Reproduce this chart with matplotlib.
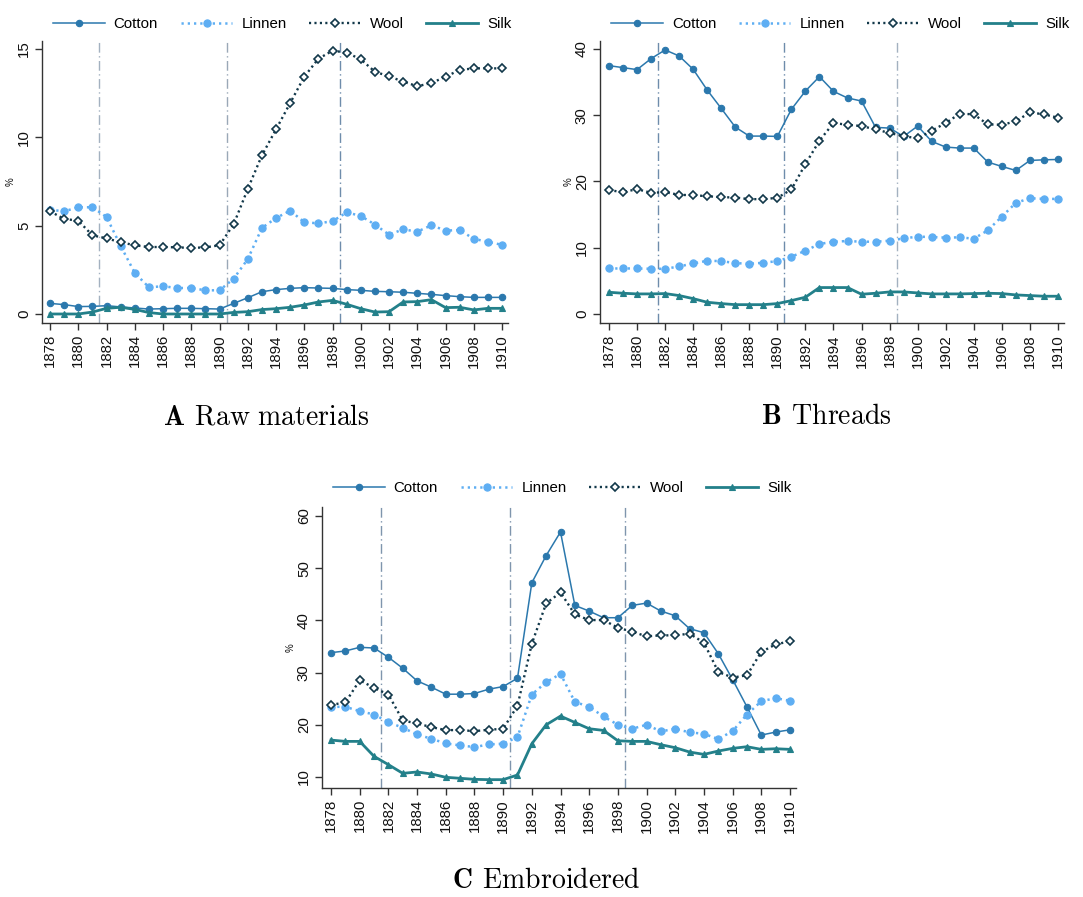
import matplotlib
matplotlib.use("Agg")
import matplotlib.pyplot as plt

plt.rcParams["font.family"] = ["Liberation Sans", "DejaVu Sans"]
plt.rcParams["mathtext.fontset"] = "cm"

years = list(range(1878, 1911))
tick_years = list(range(1878, 1911, 2))
series_names = ["Cotton", "Linnen", "Wool", "Silk"]

# Raw materials
raw_cotton = [0.60, 0.53, 0.42, 0.43, 0.47, 0.40, 0.34, 0.28, 0.30, 0.32, 0.32, 0.30, 0.28,
              0.60, 0.92, 1.26, 1.38, 1.45, 1.49, 1.47, 1.45, 1.38, 1.34, 1.28, 1.26, 1.23,
              1.17, 1.11, 1.04, 0.98, 0.94, 0.94, 0.94]
raw_linnen = [5.90, 5.81, 6.04, 6.04, 5.49, 3.85, 2.32, 1.51, 1.57, 1.47, 1.47, 1.34, 1.34,
              2.00, 3.11, 4.87, 5.43, 5.85, 5.19, 5.13, 5.25, 5.75, 5.55, 5.06, 4.49, 4.79,
              4.66, 5.02, 4.72, 4.75, 4.25, 4.09, 3.91]
raw_wool = [5.81, 5.38, 5.28, 4.45, 4.28, 4.06, 3.89, 3.79, 3.79, 3.77, 3.74, 3.77, 3.89,
            5.08, 7.08, 8.98, 10.45, 11.94, 13.43, 14.45, 14.90, 14.79, 14.41, 13.71, 13.45,
            13.15, 12.89, 13.07, 13.43, 13.81, 13.90, 13.90, 13.90]
raw_silk = [0.00, 0.00, 0.00, 0.11, 0.32, 0.38, 0.26, 0.08, 0.00, 0.00, 0.00, 0.00, 0.00,
            0.09, 0.13, 0.25, 0.30, 0.38, 0.51, 0.68, 0.77, 0.55, 0.30, 0.11, 0.13, 0.68,
            0.70, 0.81, 0.36, 0.38, 0.23, 0.32, 0.32]

# Threads
thr_cotton = [37.48, 37.18, 36.88, 38.54, 39.85, 38.94, 36.93, 33.80, 31.03, 28.21, 26.85,
              26.85, 26.80, 30.88, 33.65, 35.82, 33.60, 32.60, 32.14, 28.16, 28.06, 26.80,
              28.36, 26.05, 25.19, 25.04, 25.04, 22.92, 22.27, 21.66, 23.17, 23.27, 23.32]
thr_linnen = [6.87, 6.87, 6.87, 6.82, 6.82, 7.17, 7.63, 8.03, 7.98, 7.68, 7.58, 7.73, 7.98,
              8.64, 9.55, 10.56, 10.91, 11.01, 10.91, 10.91, 11.06, 11.41, 11.67, 11.62,
              11.52, 11.57, 11.36, 12.63, 14.70, 16.77, 17.47, 17.37, 17.37]
thr_wool = [18.69, 18.39, 18.84, 18.29, 18.39, 17.98, 17.93, 17.78, 17.63, 17.58, 17.33,
            17.33, 17.53, 18.79, 22.62, 26.15, 28.82, 28.56, 28.36, 27.86, 27.31, 26.85,
            26.50, 27.66, 28.82, 30.23, 30.13, 28.61, 28.56, 29.07, 30.43, 30.13, 29.62]
thr_silk = [3.28, 3.13, 3.03, 3.03, 3.08, 2.78, 2.32, 1.77, 1.57, 1.41, 1.41, 1.41, 1.57,
            2.02, 2.53, 3.99, 3.99, 3.99, 2.98, 3.13, 3.33, 3.33, 3.18, 3.03, 3.03, 3.03,
            3.08, 3.13, 3.08, 2.88, 2.78, 2.68, 2.68]

# Embroidered
emb_cotton = [33.82, 34.14, 34.84, 34.71, 32.93, 30.83, 28.41, 27.20, 25.86, 25.86, 25.99,
              26.82, 27.32, 28.92, 47.20, 52.42, 56.94, 42.87, 41.78, 40.51, 40.51, 42.87,
              43.31, 41.78, 40.89, 38.41, 37.64, 33.63, 28.66, 23.44, 18.03, 18.60, 19.04]
emb_linnen = [23.44, 23.44, 22.61, 21.97, 20.51, 19.43, 18.15, 17.32, 16.43, 16.05, 15.73,
              16.24, 16.37, 17.64, 25.80, 28.15, 29.75, 24.39, 23.44, 21.59, 20.00, 19.24,
              20.00, 18.73, 19.24, 18.54, 18.28, 17.26, 18.79, 21.97, 24.52, 25.10, 24.59]
emb_wool = [23.82, 24.27, 28.54, 27.07, 25.80, 20.83, 20.25, 19.55, 18.98, 18.98, 18.79,
            19.04, 19.24, 23.63, 35.54, 43.25, 45.35, 41.15, 40.06, 40.06, 38.60, 37.83,
            36.94, 37.13, 37.13, 37.45, 35.73, 30.13, 29.04, 29.49, 33.95, 35.40, 36.00]
emb_silk = [17.07, 16.82, 16.82, 13.95, 12.36, 10.70, 10.96, 10.57, 9.94, 9.75, 9.55, 9.49,
            9.49, 10.38, 16.37, 20.00, 21.66, 20.45, 19.24, 18.92, 16.94, 16.82, 16.82,
            16.18, 15.61, 14.78, 14.33, 14.97, 15.48, 15.80, 15.29, 15.41, 15.29]

break_years = [1881.5, 1890.5, 1898.5]

W, H = 1083, 897
fig = plt.figure(figsize=(W / 100, H / 100), dpi=100)


def px_rect(left, top, right, bottom):
    return [left / W, 1 - bottom / H, (right - left) / W, (bottom - top) / H]


styles = {
    "Cotton": dict(color="#2b78ad", lw=1.1, ls="-", marker="o", ms=4.6,
                   mfc="#2b78ad", mec="#2b78ad", mew=0.8),
    "Linnen": dict(color="#5eaef3", lw=1.8, ls=(0, (0.9, 1.6)), marker="o", ms=5.2,
                   mfc="#5eaef3", mec="#5eaef3", mew=0.8),
    "Wool": dict(color="#12384a", lw=1.7, ls=(0, (0.9, 1.4)), marker="D", ms=4.2,
                 mfc="white", mec="#12384a", mew=1.2),
    "Silk": dict(color="#23808a", lw=2.0, ls="-", marker="^", ms=5.0,
                 mfc="#23808a", mec="#23808a", mew=0.8),
}

line_colors = {
    "A": ["#a3b1c0", "#9aa8b7", "#6e8cab"],
    "B": ["#6e8cab", "#6e8cab", "#a3b1c0"],
    "C": ["#7f95ad", "#7f95ad", "#7f95ad"],
}

panels = [
    dict(key="A", rect=px_rect(42, 41, 508, 323), xlim=(1877.43, 1910.42),
         ylim=(-0.51, 15.45), yticks=[0, 5, 10, 15],
         data=[raw_cotton, raw_linnen, raw_wool, raw_silk],
         legend_x=53, legend_y=24,
         title=r"$\mathbf{A}\;\,\mathrm{Raw\ materials}$", title_xy=(266, 417)),
    dict(key="B", rect=px_rect(600, 41, 1064, 323), xlim=(1877.36, 1910.43),
         ylim=(-1.36, 41.2), yticks=[0, 10, 20, 30, 40],
         data=[thr_cotton, thr_linnen, thr_wool, thr_silk],
         legend_x=611, legend_y=24,
         title=r"$\mathbf{B}\;\,\mathrm{Threads}$", title_xy=(826, 417)),
    dict(key="C", rect=px_rect(322, 507, 796, 788), xlim=(1877.37, 1910.42),
         ylim=(7.89, 61.72), yticks=[10, 20, 30, 40, 50, 60],
         data=[emb_cotton, emb_linnen, emb_wool, emb_silk],
         legend_x=333, legend_y=488,
         title=r"$\mathbf{C}\;\,\mathrm{Embroidered}$", title_xy=(546, 881)),
]

for p in panels:
    ax = fig.add_axes(p["rect"])
    for xb, c in zip(break_years, line_colors[p["key"]]):
        ax.axvline(xb, color=c, lw=1.0, ls=(0, (7, 2.5, 1, 2.5)), zorder=1)
    handles = []
    for name, vals in zip(series_names, p["data"]):
        st = styles[name]
        h, = ax.plot(years, vals, label=name, zorder=3, **st)
        handles.append(h)
    ax.set_xlim(*p["xlim"])
    ax.set_ylim(*p["ylim"])
    ax.set_xticks(tick_years)
    ax.set_xticklabels([str(y) for y in tick_years], rotation=90)
    ax.set_yticks(p["yticks"])
    ax.set_yticklabels([str(v) for v in p["yticks"]], rotation=90, va="center")
    for side in ("top", "right"):
        ax.spines[side].set_visible(False)
    for side in ("left", "bottom"):
        ax.spines[side].set_color("#333333")
        ax.spines[side].set_linewidth(1.0)
    ax.tick_params(axis="both", direction="out", length=5, width=1.0,
                   color="#333333", labelsize=10.8, labelcolor="#111111", pad=3)
    ax.set_ylabel("%", fontsize=7, rotation=90, labelpad=1, color="#111111")
    ax.legend(handles=handles, loc="center left",
              bbox_to_anchor=(p["legend_x"] / W, 1 - p["legend_y"] / H),
              bbox_transform=fig.transFigure, ncol=4, frameon=False,
              fontsize=10.8, handlelength=3.45, handletextpad=0.6,
              columnspacing=1.5, borderpad=0, borderaxespad=0, numpoints=1)
    fig.text(p["title_xy"][0] / W, 1 - p["title_xy"][1] / H, p["title"],
             fontsize=20, ha="center", va="center", color="black")

fig.savefig("out.png", dpi=100)
